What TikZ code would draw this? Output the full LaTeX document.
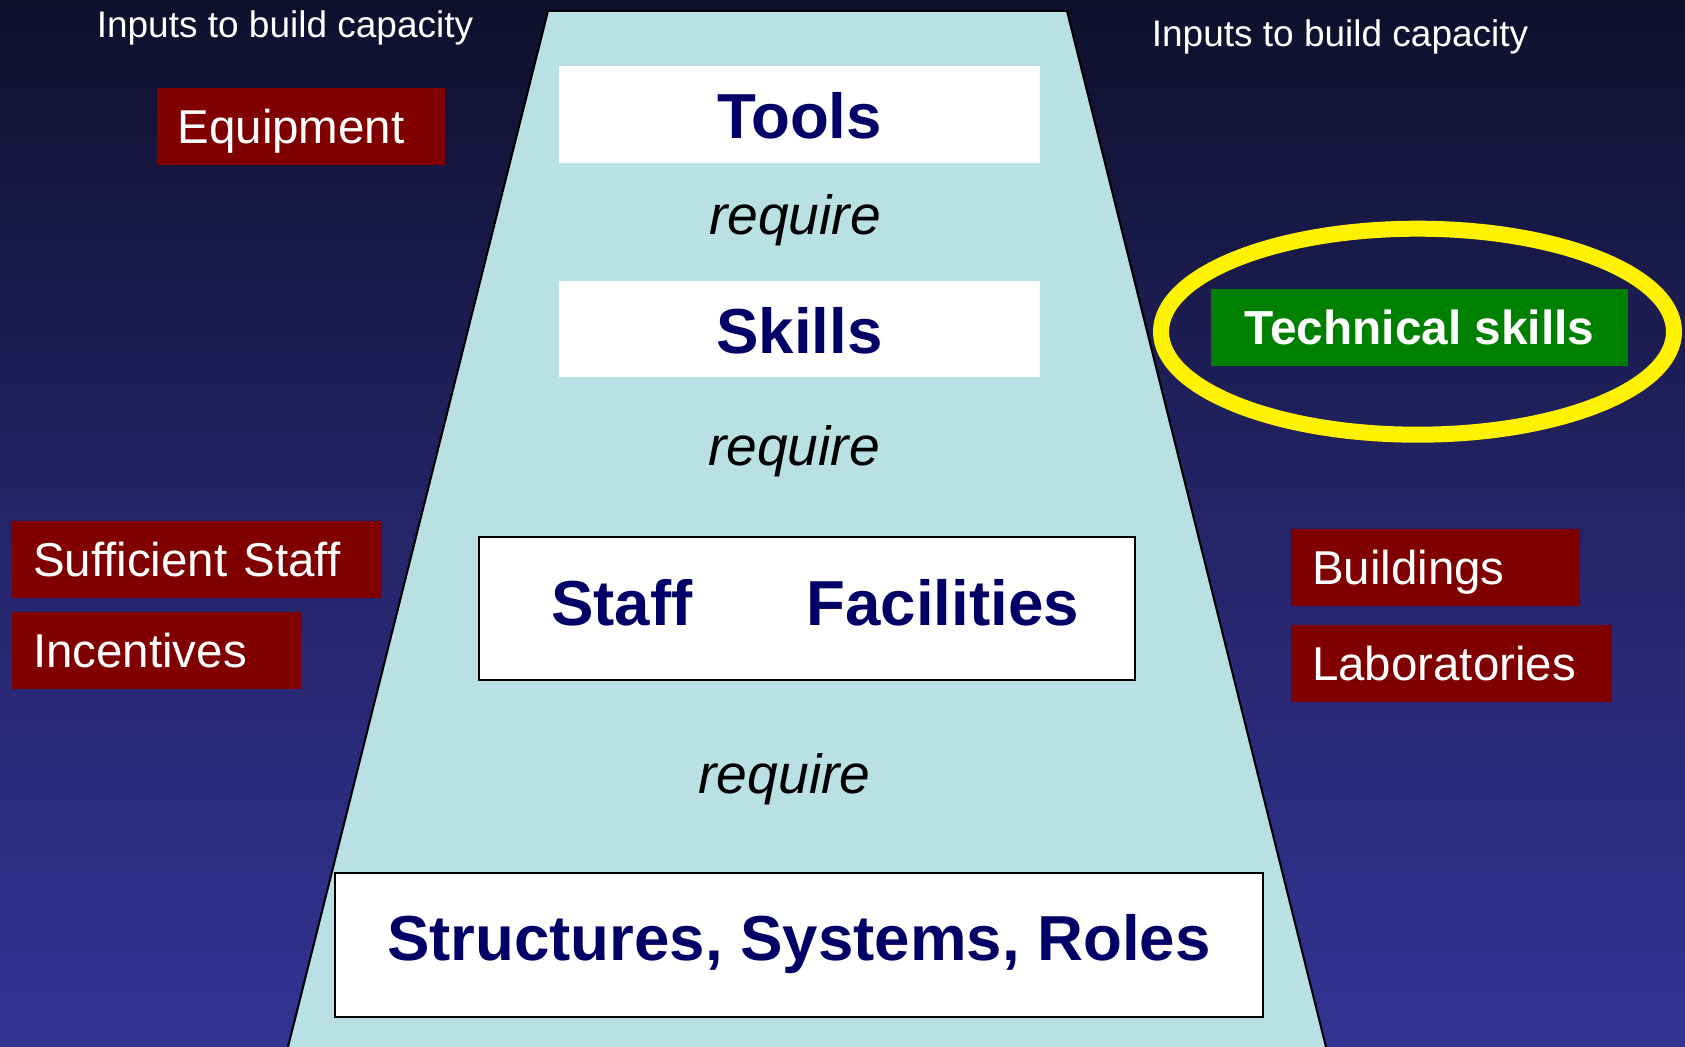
\documentclass[tikz,border=0pt]{standalone}
\usepackage{fontspec}
\setmainfont{Liberation Sans}
\usepackage{tikz}
\usetikzlibrary{shapes.geometric}

\definecolor{bgtop}{RGB}{15,15,44}
\definecolor{bgmid}{RGB}{36,36,104}
\definecolor{bgbottom}{RGB}{51,51,148}
\definecolor{pyramidfill}{RGB}{185,224,227}
\definecolor{tiernavy}{RGB}{0,0,102}
\definecolor{inputred}{RGB}{128,0,0}
\definecolor{skillgreen}{RGB}{0,128,0}

\begin{document}
\begin{tikzpicture}[x=0.5pt, y=-0.5pt,
  tier/.style={fill=white, text=tiernavy, font=\fontsize{31.8pt}{36pt}\selectfont\bfseries,
    inner sep=0pt, text height=24pt, text depth=0pt},
  framed/.style={tier, draw=black, line width=1pt},
  input/.style={fill=inputred, text=white, font=\fontsize{23.75pt}{28pt}\selectfont, align=left,
    inner xsep=10.5pt, inner ysep=0pt, minimum height=38.5pt, text height=17pt, text depth=0pt},
  req/.style={anchor=base, font=\fontsize{27.6pt}{32pt}\selectfont\itshape},
  caption/.style={anchor=base, text=white, font=\fontsize{18.5pt}{22pt}\selectfont}]
  \useasboundingbox (0,0) rectangle (1685,1047);
  \shade[top color=bgtop, bottom color=bgbottom, middle color=bgmid] (0,0) rectangle (1685,1047);
  \draw[fill=pyramidfill, line width=1pt] (288,1047) -- (548,11) -- (1067,11) -- (1326,1047);

  \node[tier, minimum width=240.5pt, minimum height=48.5pt] (tools) at (799.5,114.2) {Tools};
  \node[req] (req1) at (795,234.5) {require};
  \node[tier, minimum width=240.5pt, minimum height=48pt] (skills) at (799.5,329.4) {Skills};
  \node[req] (req2) at (794,466) {require};
  \node[framed, minimum width=328pt, minimum height=71.5pt, text height=16.5pt] (stafffac) at (807,608.5)
    {\hspace*{8pt}Staff\hspace{57pt}Facilities};
  \node[req] (req3) at (784.5,793) {require};
  \node[framed, minimum width=464pt, minimum height=72pt, text height=16pt] (roles) at (799,944.9)
    {Structures, Systems, Roles};

  \node[caption] (inleft) at (285,37.3) {Inputs to build capacity};
  \node[caption] (inright) at (1340,46.7) {Inputs to build capacity};
  \node[input, text width=123pt] (equip) at (300.5,126.4) {Equipment};
  \node[input, text width=163.5pt] (suffstaff) at (196.5,559.5) {Sufficient Staff};
  \node[input, text width=123.5pt] (incent) at (156.5,650.5) {Incentives};
  \node[input, text width=123.5pt] (build) at (1435.5,567.3) {Buildings};
  \node[input, text width=139.5pt] (labs) at (1451.5,663.3) {Laboratories};

  \node[fill=skillgreen, text=white, font=\fontsize{23.9pt}{28pt}\selectfont\bfseries, inner sep=0pt,
    minimum width=208.5pt, minimum height=38.3pt, text height=17.6pt, text depth=0pt] (tech) at (1419.5,327.4)
    {Technical skills};
  \node[ellipse, draw=yellow, line width=8pt, inner sep=0pt, minimum width=256.5pt, minimum height=103pt]
    (ring) at (1417.5,331.7) {};
\end{tikzpicture}
\end{document}
